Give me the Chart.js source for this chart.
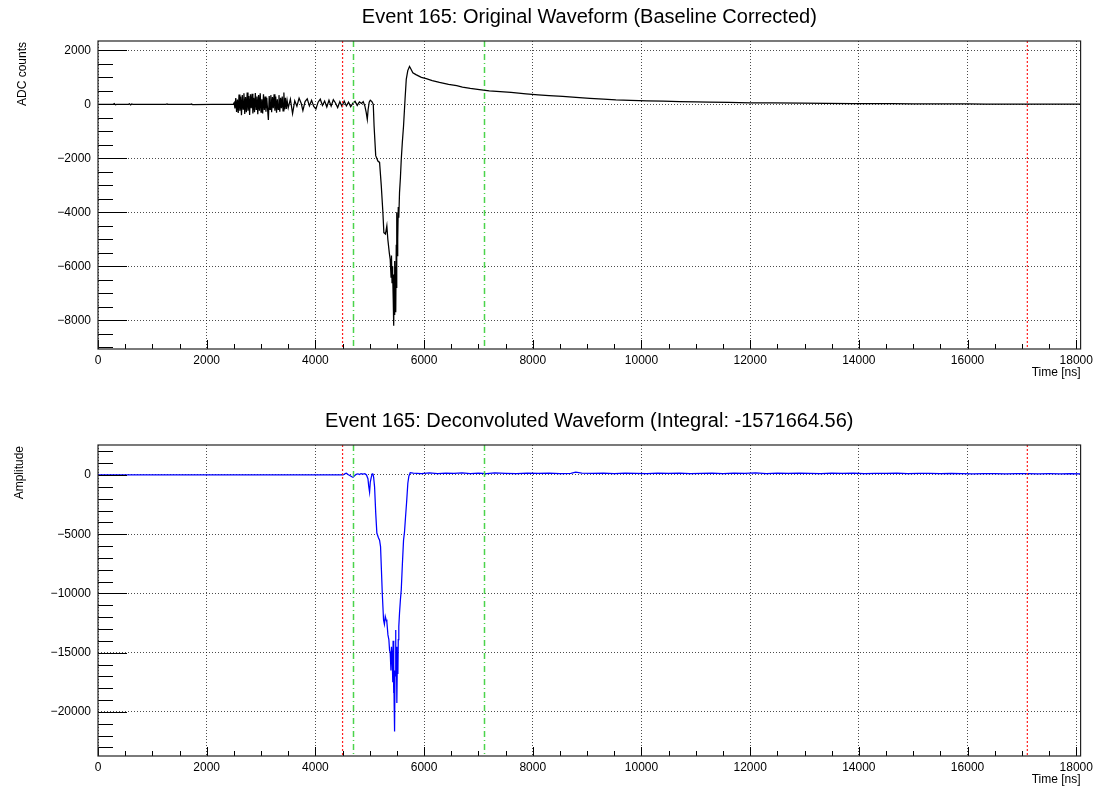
<!DOCTYPE html>
<html>
<head>
<meta charset="utf-8">
<title>Event 165</title>
<script src="https://cdn.jsdelivr.net/npm/chart.js@4.4.1/dist/chart.umd.min.js"></script>
<style>
    html, body { margin: 0; padding: 0; background: #fff; }
    #page { position: relative; width: 1097px; height: 788px; overflow: hidden; }
    .panel { position: absolute; left: 0; width: 1097px; height: 394px; }
</style>
</head>
<body>
<div id="page">
    <div class="panel" style="top:0"><canvas id="rawChart" width="1097" height="394"></canvas></div>
    <div class="panel" style="top:394px"><canvas id="deconvChart" width="1097" height="394"></canvas></div>
</div>
<script>
// axis ticks (ns / counts)
const timeTicks = [0, 2000, 4000, 6000, 8000, 10000, 12000, 14000, 16000, 18000];
const rawTicks = [-8000, -6000, -4000, -2000, 0, 2000];
const deconvTicks = [-20000, -15000, -10000, -5000, 0];

// window markers drawn on both pads
const redMarkers = [4500, 17100];
const greenMarkers = [4700, 7100];

// ---- original waveform (ADC counts) ----
const rawBaseT = [0, 280, 300, 320, 340, 560, 580, 600, 620, 640, 900, 1250, 1270, 1290, 1700, 1720, 1740, 2100, 2350, 2490];
const rawBaseV = [0, 0, 25, -15, 0, 0, 20, -20, 15, 0, 0, 0, 15, 0, 0, 12, -8, 0, 0, 0];

const rawBurstT = [2505, 2520, 2535, 2550, 2565, 2580, 2595, 2610, 2625, 2640, 2655, 2670, 2685, 2700, 2715, 2730, 2745, 2760, 2775, 2790, 2805, 2820, 2835, 2850, 2865, 2880, 2895, 2910, 2925, 2940, 2955, 2970, 2985, 3000, 3015, 3030, 3045, 3060, 3075, 3090, 3105, 3120, 3135, 3150, 3165, 3180, 3195, 3210, 3225, 3240, 3255, 3270, 3285, 3300, 3315, 3330, 3345, 3360, 3375, 3390, 3405, 3420, 3435, 3450, 3465, 3480];
const rawBurstV = [60, -150, 230, -280, 180, -320, 360, -240, 290, -400, 340, -180, 410, -360, 270, -290, 440, -240, 310, -390, 370, -140, 390, -340, 240, -290, 420, -190, 290, -370, 340, -240, 410, -290, 190, -340, 370, -210, 290, -270, 240, -180, -580, 310, -190, 340, -290, 270, -140, 370, -240, 290, -310, 190, -190, 340, -270, 240, -140, 290, -240, 440, -190, 240, -170, 140];

const rawRingT = [3500, 3540, 3580, 3620, 3660, 3700, 3740, 3770, 3810, 3850, 3890, 3930, 3970, 4010, 4050, 4090, 4130, 4170, 4210, 4250, 4290, 4330, 4370, 4410, 4450, 4490, 4530, 4570, 4610, 4650, 4690, 4730, 4770, 4810, 4850, 4880, 4910, 4935, 4955, 4970, 4990, 5010, 5040, 5065];
const rawRingV = [-130, 190, -340, 130, -70, 230, 30, -230, 100, 200, -60, 150, -80, -170, 80, 190, -40, 120, -100, 150, -70, 170, 50, -120, 100, -80, 120, -60, 80, -90, 40, 110, -40, 90, 30, 100, -60, -300, -560, -200, 80, 150, 100, 0];

const rawPulseT = [5080, 5110, 5150, 5181, 5212, 5242, 5260, 5290, 5315, 5333, 5360, 5377, 5392, 5400, 5410, 5418, 5425, 5432, 5438, 5444, 5450, 5456, 5462, 5469, 5475, 5482, 5488, 5494, 5500, 5506, 5512, 5518, 5525, 5535, 5548, 5565, 5580, 5600, 5622, 5650, 5672, 5700, 5732, 5760, 5793];
const rawPulseV = [-800, -1900, -2100, -2150, -3000, -4000, -4750, -4800, -4500, -5000, -5500, -5750, -6400, -5600, -6600, -6000, -6250, -7200, -6300, -8200, -6500, -7800, -5800, -7500, -6000, -7700, -5200, -6800, -4000, -5600, -4200, -5000, -3800, -4200, -3270, -2700, -2040, -1400, -800, 200, 925, 1250, 1400, 1300, 1170];

const rawTailT = [5850, 5950, 6039, 6150, 6283, 6450, 6600, 6706, 6850, 7018, 7200, 7400, 7600, 7875, 8100, 8300, 8550, 8794, 9050, 9300, 9529, 9800, 10100, 10400, 10700, 11000, 11244, 11600, 12000, 12400, 12958, 13400, 13900, 14611, 15000, 15500, 16000, 16325, 16800, 17300, 17700, 18080];
const rawTailV = [1100, 1000, 950, 880, 810, 740, 690, 640, 590, 545, 500, 470, 440, 390, 350, 320, 290, 260, 225, 195, 165, 150, 130, 115, 100, 88, 78, 68, 58, 50, 40, 35, 30, 24, 20, 16, 14, 12, 10, 8, 6, 5];

// ---- deconvoluted waveform (amplitude) ----
const decBaseT = [0, 4500];
const decBaseV = [0, 0];

const decRingT = [4520, 4550, 4569, 4600, 4640, 4670, 4691, 4720, 4750, 4783, 4810, 4840, 4875, 4910, 4940, 4967, 4980, 4997, 5010, 5028, 5045, 5058, 5072];
const decRingV = [20, 120, 150, 40, -60, -150, -185, -60, 60, 100, 40, 120, 80, 110, 0, -320, -900, -1450, -600, -200, 100, 120, -200];

const decPulseT = [5089, 5110, 5131, 5160, 5181, 5199, 5215, 5231, 5254, 5270, 5286, 5300, 5315, 5335, 5352, 5365, 5377, 5390, 5400, 5414, 5424, 5430, 5438, 5445, 5450, 5457, 5465, 5475, 5482, 5490, 5499, 5510, 5518, 5525, 5535, 5548, 5565, 5580, 5600, 5622, 5640, 5659, 5680, 5701, 5720, 5745];
const decPulseV = [-1000, -3200, -4900, -5300, -5500, -6050, -8000, -10000, -12240, -12600, -11950, -12200, -12400, -13500, -13900, -14800, -15000, -16500, -14500, -15600, -17500, -14000, -18400, -16000, -19500, -21660, -16500, -13080, -17000, -14500, -19240, -15000, -16800, -13900, -12800, -11650, -10500, -9700, -7600, -5500, -4800, -3520, -2200, -700, -100, 200];

const decTailT = [5800, 5950, 6100, 6250, 6400, 6550, 6700, 6850, 7000, 7150, 7300, 7500, 7700, 7900, 8100, 8300, 8500, 8700, 8790, 8900, 9100, 9300, 9500, 9700, 9900, 10100, 10300, 10500, 10700, 10900, 11100, 11300, 11500, 11700, 11900, 12100, 12300, 12500, 12700, 12900, 13100, 13300, 13500, 13700, 13900, 14100, 14300, 14500, 14700, 14900, 15100, 15300, 15500, 15700, 15900, 16100, 16300, 16500, 16700, 16900, 17100, 17300, 17500, 17700, 17900, 18080];
const decTailV = [150, 120, 170, 110, 160, 130, 180, 120, 150, 110, 170, 140, 120, 160, 130, 150, 120, 140, 240, 150, 130, 160, 120, 150, 140, 120, 160, 130, 150, 110, 140, 160, 120, 150, 130, 170, 120, 150, 130, 160, 140, 120, 150, 130, 160, 110, 140, 130, 150, 120, 140, 130, 110, 130, 120, 100, 120, 110, 100, 120, 110, 100, 110, 100, 110, 100];

const rawTime = [...rawBaseT, ...rawBurstT, ...rawRingT, ...rawPulseT, ...rawTailT];
const rawAdc = [...rawBaseV, ...rawBurstV, ...rawRingV, ...rawPulseV, ...rawTailV];
const decTime = [...decBaseT, ...decRingT, ...decPulseT, ...decTailT];
const decAmp = [...decBaseV, ...decRingV, ...decPulseV, ...decTailV];

class EventPlots {

    static font = '"Liberation Sans", Arial, Helvetica, sans-serif';

    static pointers = {
        raw: 'rawChart',
        deconv: 'deconvChart',
    }

    // ROOT prints negative labels with a real minus sign
    static rootLabel = (value) => value < 0 ? '\u2212' + Math.abs(value) : String(value);

    // frame, inside ticks, marker lines and the pad titles, drawn ROOT-style
    static rootFrame = {
        id: 'rootFrame',
        afterDatasetsDraw: (chart, args, opts) => {
            const ctx = chart.ctx;
            const a = chart.chartArea;
            const x = chart.scales.x;
            const y = chart.scales.y;
            ctx.save();

            // window markers
            ctx.lineWidth = 1.2;
            ctx.strokeStyle = 'rgb(255, 30, 30)';
            ctx.setLineDash([2, 2]);
            ctx.beginPath();
            redMarkers.forEach(t => {
                const px = x.getPixelForValue(t);
                ctx.moveTo(px, a.top);
                ctx.lineTo(px, a.bottom);
            });
            ctx.stroke();
            ctx.strokeStyle = '#4cd44c';
            ctx.lineWidth = 1.5;
            ctx.setLineDash([6, 3, 1, 3]);
            ctx.beginPath();
            greenMarkers.forEach(t => {
                const px = Math.round(x.getPixelForValue(t)) + 0.5;
                ctx.moveTo(px, a.top);
                ctx.lineTo(px, a.bottom);
            });
            ctx.stroke();
            ctx.setLineDash([]);

            // ticks on the inside of the frame
            ctx.strokeStyle = '#000';
            ctx.lineWidth = 1;
            ctx.beginPath();
            for (let t = 0; t <= x.max; t += 500) {
                const px = Math.round(x.getPixelForValue(t)) + 0.5;
                const len = t % 2000 === 0 ? 9 : 5;
                ctx.moveTo(px, a.bottom);
                ctx.lineTo(px, a.bottom - len);
            }
            const minor = opts.yMinor;
            const major = opts.yMajor;
            for (let v = Math.ceil(y.min / minor) * minor; v <= y.max; v += minor) {
                const py = Math.round(y.getPixelForValue(v)) + 0.5;
                const len = v % major === 0 ? 29 : 15;
                ctx.moveTo(a.left, py);
                ctx.lineTo(a.left + len, py);
            }
            ctx.stroke();

            // frame
            ctx.strokeStyle = '#222';
            ctx.lineWidth = 1.2;
            ctx.strokeRect(a.left, a.top, a.right - a.left, a.bottom - a.top);

            // texts
            ctx.fillStyle = '#000';
            ctx.textBaseline = 'alphabetic';
            ctx.font = '20px ' + EventPlots.font;
            ctx.textAlign = 'center';
            ctx.fillText(opts.title, (a.left + a.right) / 2, a.top - 18);

            ctx.font = '12px ' + EventPlots.font;
            ctx.textAlign = 'right';
            ctx.fillText('Time [ns]', a.right, a.bottom + 27);

            ctx.translate(opts.yTitleX, a.top + 1);
            ctx.rotate(-Math.PI / 2);
            ctx.fillText(opts.yTitle, 0, 0);
            ctx.restore();
        }
    }

    // build one pad; top / bottom are the frame edges inside the 394px canvas
    static buildPanel = (canvasId, time, values, color, pad) => {
        const points = time.map((t, i) => ({ x: t, y: values[i] }));
        return new Chart(document.getElementById(canvasId), {
            type: 'line',
            data: {
                datasets: [{
                    data: points,
                    borderColor: color,
                    borderWidth: 1.25,
                    pointRadius: 0,
                    tension: 0,
                    fill: false,
                }]
            },
            options: {
                responsive: false,
                animation: false,
                events: [],
                layout: {
                    autoPadding: false,
                    padding: { left: 0, right: 15, top: pad.top, bottom: 0 }
                },
                plugins: {
                    legend: { display: false },
                    tooltip: { enabled: false },
                    title: { display: false },
                    rootFrame: pad,
                },
                scales: {
                    x: {
                        type: 'linear',
                        min: 0,
                        max: 18080,
                        afterBuildTicks: (s) => { s.ticks = timeTicks.map(v => ({ value: v })); },
                        afterFit: (s) => { s.height = 394 - pad.bottom; },
                        ticks: {
                            autoSkip: false,
                            maxRotation: 0,
                            padding: 4,
                            color: '#000',
                            font: { family: EventPlots.font, size: 12 },
                            callback: EventPlots.rootLabel,
                        },
                        grid: { drawTicks: false, color: 'rgba(0,0,0,0.7)', lineWidth: 1 },
                        border: { display: false, dash: [1, 2] },
                    },
                    y: {
                        type: 'linear',
                        min: pad.yMin,
                        max: pad.yMax,
                        afterBuildTicks: (s) => { s.ticks = pad.yTicks.map(v => ({ value: v })); },
                        afterFit: (s) => { s.width = 98; },
                        ticks: {
                            autoSkip: false,
                            padding: 7,
                            color: '#000',
                            font: { family: EventPlots.font, size: 12 },
                            callback: EventPlots.rootLabel,
                        },
                        grid: { drawTicks: false, color: 'rgba(0,0,0,0.7)', lineWidth: 1 },
                        border: { display: false, dash: [1, 2] },
                    }
                }
            },
            plugins: [EventPlots.rootFrame]
        });
    }

    static init = () => {
        this.buildPanel(this.pointers.raw, rawTime, rawAdc, '#000000', {
            top: 41, bottom: 349,
            yMin: -9060, yMax: 2345,
            yTicks: rawTicks, yMajor: 2000, yMinor: 500,
            title: 'Event 165: Original Waveform (Baseline Corrected)',
            yTitle: 'ADC counts', yTitleX: 26,
        });
        this.buildPanel(this.pointers.deconv, decTime, decAmp, '#0000ff', {
            top: 51, bottom: 362,
            yMin: -23720, yMax: 2530,
            yTicks: deconvTicks, yMajor: 5000, yMinor: 1000,
            title: 'Event 165: Deconvoluted Waveform (Integral: -1571664.56)',
            yTitle: 'Amplitude', yTitleX: 22.5,
        });
    }
}

EventPlots.init();
</script>
</body>
</html>
